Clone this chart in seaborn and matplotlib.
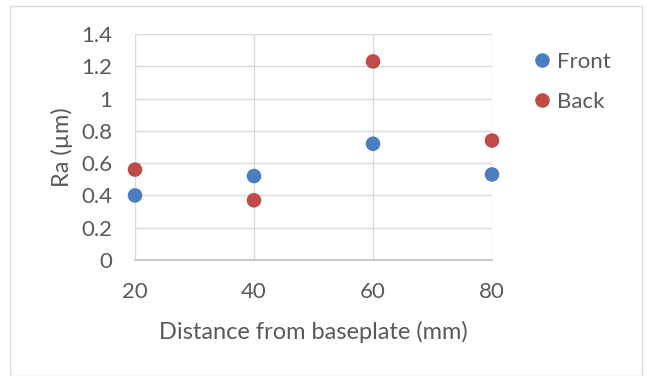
import matplotlib
matplotlib.use("Agg")
import matplotlib.pyplot as plt
import matplotlib.patches as mpatches
import seaborn as sns
import pandas as pd

# Surface roughness measured at each build height
distance_mm = [20, 40, 60, 80]
front_ra = [0.40, 0.52, 0.72, 0.53]
back_ra = [0.56, 0.37, 1.23, 0.74]
series_names = ["Front", "Back"]
x_ticks = [20, 40, 60, 80]
y_ticks = [0, 0.2, 0.4, 0.6, 0.8, 1.0, 1.2, 1.4]
y_tick_labels = ["0", "0.2", "0.4", "0.6", "0.8", "1", "1.2", "1.4"]

df = pd.DataFrame({
    "distance": distance_mm * 2,
    "ra": front_ra + back_ra,
    "side": [series_names[0]] * len(front_ra) + [series_names[1]] * len(back_ra),
})

sns.set_theme(style="white")
plt.rcParams["font.family"] = ["Lato", "DejaVu Sans"]

text_color = "#595959"
grid_color = "#D9D9D9"
palette = {"Front": "#4A7EBF", "Back": "#BE4B48"}

fig = plt.figure(figsize=(6.47, 3.76), dpi=100)
ax = fig.add_axes([135 / 647, 1 - 260 / 376, (492 - 135) / 647, (260 - 34) / 376])

sns.scatterplot(data=df, x="distance", y="ra", hue="side", palette=palette,
                s=110, edgecolor="none", ax=ax, zorder=3, clip_on=False)

ax.set_xlim(20, 80)
ax.set_ylim(0, 1.4)
ax.set_xticks(x_ticks)
ax.set_yticks(y_ticks)
ax.set_yticklabels(y_tick_labels)
ax.grid(True, color=grid_color, linewidth=1.0)
ax.set_axisbelow(True)
for side in ["top", "right", "left"]:
    ax.spines[side].set_visible(False)
ax.spines["bottom"].set_color("#BFBFBF")
ax.spines["bottom"].set_linewidth(1.2)
ax.tick_params(axis="both", length=0, labelsize=16, colors=text_color)
ax.tick_params(axis="y", pad=16.5)
ax.tick_params(axis="x", pad=16)

ax.set_xlabel("Distance from baseplate (mm)", fontsize=17, color=text_color, va="center")
ax.xaxis.set_label_coords(0.5, (260 - 332) / 226)
ax.set_ylabel("Ra (µm)", fontsize=17, color=text_color, va="center")
ax.yaxis.set_label_coords((62 - 135) / 357, 0.5)

handles, labels = ax.get_legend_handles_labels()
ax.legend(handles, labels, loc="upper left", bbox_to_anchor=(515 / 647, 1 - 41 / 376),
          bbox_transform=fig.transFigure, frameon=False, fontsize=16,
          labelcolor=text_color, handletextpad=0.0, labelspacing=0.88,
          markerscale=1.0, handlelength=1.4, borderpad=0.0)

# chart area border
fig.patches.append(mpatches.Rectangle((10 / 647, 0), 632 / 647, 1 - 6 / 376,
                                      transform=fig.transFigure, fill=False,
                                      edgecolor="#D9D9D9", linewidth=1.0))

fig.savefig("out.png", dpi=100)
